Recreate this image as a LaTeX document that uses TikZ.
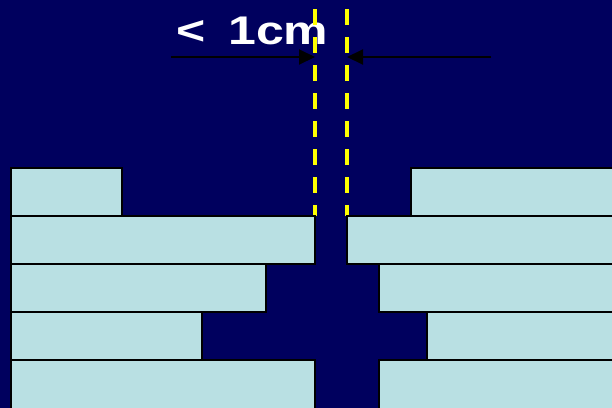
\documentclass[tikz,border=0pt]{standalone}
\usepackage{fontspec}
\setmainfont{Liberation Sans}
\usetikzlibrary{arrows.meta}
\definecolor{navy}{RGB}{0,0,94}
\definecolor{slab}{RGB}{185,224,227}
\definecolor{guide}{RGB}{255,255,0}
\tikzset{
  bar/.style={fill=slab, draw=black, line width=2pt},
  guideline/.style={draw=guide, line width=3.5pt, dash pattern=on 16pt off 12pt},
  dimarrow/.style={draw=black, line width=2pt, -{Triangle[length=16pt,width=15pt]}},
  label/.style={text=white, font=\bfseries\fontsize{40}{40}\selectfont, inner sep=0pt, anchor=base}
}
\begin{document}
\begin{tikzpicture}[x=1pt,y=-1pt]
\useasboundingbox (0,0) rectangle (612,407);
\clip (0,0) rectangle (612,407);
\fill[navy] (-5,-5) rectangle (620,420);
% label
\node[label, xscale=1.25] (lbl) at (252.5,44.5) {<\hspace{0.45em}1cm};
% dimension arrows
\coordinate (la) at (171,57);
\coordinate (lt) at (315,57);
\coordinate (ra) at (491,57);
\coordinate (rt) at (347,57);
\draw[dimarrow] (la) -- (lt);
\draw[dimarrow] (ra) -- (rt);
% guide lines
\coordinate (g1top) at (315,9);
\coordinate (g1bot) at (315,216);
\coordinate (g2top) at (347,9);
\coordinate (g2bot) at (347,216);
\draw[guideline] (g1top) -- (g1bot);
\draw[guideline] (g2top) -- (g2bot);
% left bars
\draw[bar] (11,168) rectangle (122,216);
\draw[bar] (11,216) rectangle (315,264);
\draw[bar] (11,264) rectangle (266,312);
\draw[bar] (11,312) rectangle (202,360);
\draw[bar] (11,360) rectangle (315,420);
% right bars
\draw[bar] (411,168) rectangle (625,216);
\draw[bar] (347,216) rectangle (625,264);
\draw[bar] (379,264) rectangle (625,312);
\draw[bar] (427,312) rectangle (625,360);
\draw[bar] (379,360) rectangle (625,420);
\end{tikzpicture}
\end{document}
